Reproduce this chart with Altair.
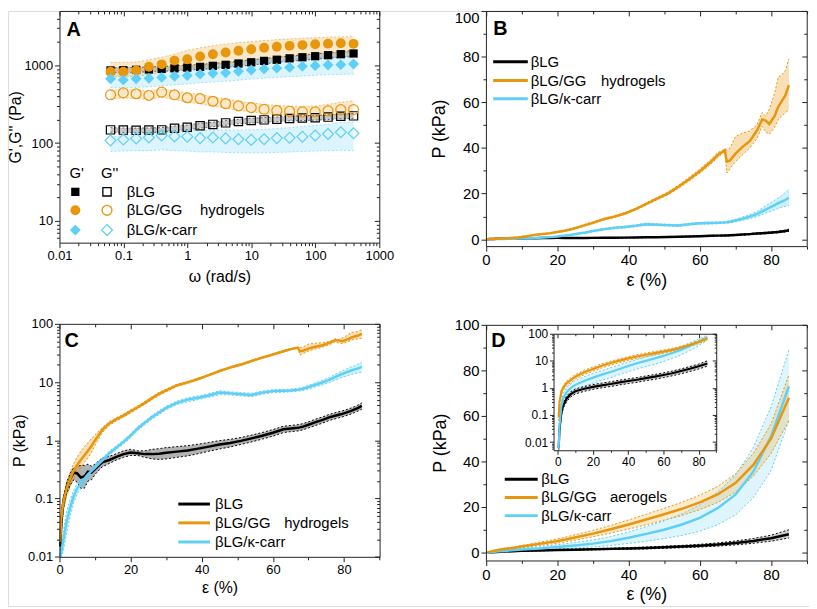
import altair as alt
import pandas as pd

W, H = 809, 601
FONT = "Liberation Sans"
ORANGE = "#E8960C"
CYAN = "#5ECFF5"
AXC = "#222222"

MATS = ["LG", "GG", "KC"]
MAT_LABELS = ["βLG", "βLG/GG", "βLG/κ-carr"]

# ---------------- Panel A : frequency sweep ----------------
omega = [0.0628, 0.0995, 0.158, 0.25, 0.396, 0.628, 0.995, 1.58, 2.5, 3.96,
         6.28, 9.95, 15.8, 25, 39.6, 62.8, 99.5, 158, 250, 396]

Gp_LG = [860, 865, 875, 885, 900, 915, 935, 955, 985, 1015, 1055, 1095, 1140, 1180, 1230, 1270, 1310, 1350, 1390, 1420]
Gp_LG_lo = [800, 805, 815, 825, 838, 850, 868, 885, 910, 938, 972, 1008, 1048, 1085, 1128, 1165, 1200, 1235, 1270, 1300]
Gp_LG_hi = [930, 935, 945, 955, 970, 985, 1005, 1028, 1060, 1092, 1135, 1178, 1225, 1268, 1320, 1365, 1410, 1455, 1500, 1550]

Gp_GG = [830, 830, 860, 960, 1030, 1150, 1200, 1300, 1390, 1460, 1540, 1610, 1680, 1730, 1780, 1820, 1870, 1900, 1920, 1890]
Gp_GG_lo = [720, 710, 720, 760, 810, 860, 900, 960, 1010, 1060, 1110, 1160, 1210, 1250, 1290, 1330, 1370, 1400, 1430, 1460]
Gp_GG_hi = [1090, 1090, 1100, 1180, 1270, 1400, 1560, 1680, 1790, 1880, 1960, 2020, 2080, 2140, 2190, 2230, 2270, 2300, 2320, 2340]

Gp_KC = [670, 650, 670, 680, 700, 725, 740, 770, 790, 800, 840, 870, 900, 920, 940, 970, 990, 1010, 1020, 1040]
Gp_KC_lo = [520, 510, 520, 530, 545, 560, 575, 595, 610, 625, 645, 665, 685, 700, 715, 730, 745, 755, 765, 775]
Gp_KC_hi = [780, 780, 800, 820, 850, 880, 910, 950, 990, 1020, 1070, 1110, 1150, 1180, 1210, 1240, 1270, 1290, 1310, 1340]

Gpp_LG = [148, 147, 146, 147, 148, 155, 160, 167, 174, 182, 190, 195, 199, 203, 207, 210, 212, 216, 222, 224]
Gpp_LG_lo = [138, 137, 136, 137, 138, 144, 149, 155, 162, 169, 177, 181, 185, 189, 193, 195, 197, 201, 206, 208]
Gpp_LG_hi = [158, 157, 156, 157, 158, 166, 171, 179, 186, 195, 203, 209, 213, 217, 221, 225, 227, 231, 238, 240]

Gpp_GG = [418, 443, 431, 410, 453, 418, 383, 373, 345, 322, 301, 286, 272, 262, 257, 252, 252, 260, 270, 270]
Gpp_GG_lo = [370, 380, 375, 365, 390, 365, 335, 320, 300, 282, 265, 252, 240, 232, 228, 225, 225, 228, 232, 232]
Gpp_GG_hi = [480, 490, 480, 465, 500, 470, 440, 425, 395, 370, 345, 330, 315, 305, 300, 298, 300, 315, 335, 350]

Gpp_KC = [108, 111, 115, 118, 125, 122, 121, 116, 118, 115, 112, 110, 112, 116, 117, 121, 125, 131, 138, 134]
Gpp_KC_lo = [78, 79, 80, 80, 82, 80, 79, 77, 77, 76, 75, 75, 75, 76, 77, 78, 79, 80, 81, 80]
Gpp_KC_hi = [120, 125, 132, 138, 146, 146, 146, 145, 146, 147, 147, 148, 150, 154, 158, 163, 168, 175, 184, 186]

# ---------------- Panels B, C : hydrogels compression ----------------
eps_H = [0.2, 0.5, 1, 2, 3, 4, 5, 6, 7, 8,
         9, 10, 12, 14, 16, 18, 20, 22, 24, 26,
         28, 30, 33, 36, 39, 42, 45, 48, 51, 54,
         57, 60, 63, 65, 67, 67.6, 68.5, 70, 72, 74,
         76, 77.5, 78.5, 79.5, 81, 82, 83, 84, 85]

LG_H = [0.015, 0.035, 0.08, 0.15, 0.22, 0.28, 0.27, 0.23, 0.24, 0.29,
        0.28, 0.32, 0.42, 0.46, 0.52, 0.58, 0.62, 0.60, 0.58, 0.58,
        0.59, 0.61, 0.64, 0.67, 0.72, 0.78, 0.85, 0.90, 0.98, 1.08,
        1.20, 1.35, 1.55, 1.60, 1.65, 1.67, 1.72, 1.85, 2.05, 2.25,
        2.50, 2.65, 2.75, 2.85, 3.05, 3.20, 3.40, 3.62, 3.90]
LG_H_lo = [0.011, 0.027, 0.062, 0.12, 0.17, 0.21, 0.19, 0.15, 0.15, 0.20,
           0.21, 0.26, 0.35, 0.40, 0.46, 0.51, 0.55, 0.55, 0.51, 0.48,
           0.47, 0.48, 0.51, 0.54, 0.59, 0.65, 0.71, 0.77, 0.85, 0.94,
           1.05, 1.18, 1.36, 1.41, 1.45, 1.47, 1.52, 1.63, 1.80, 1.98,
           2.21, 2.34, 2.43, 2.52, 2.70, 2.83, 3.01, 3.20, 3.42]
LG_H_hi = [0.020, 0.045, 0.10, 0.19, 0.27, 0.34, 0.36, 0.37, 0.37, 0.39,
           0.36, 0.39, 0.50, 0.53, 0.59, 0.66, 0.70, 0.66, 0.66, 0.70,
           0.72, 0.75, 0.78, 0.81, 0.86, 0.92, 0.99, 1.04, 1.12, 1.23,
           1.36, 1.53, 1.75, 1.80, 1.86, 1.88, 1.94, 2.08, 2.31, 2.53,
           2.81, 2.98, 3.09, 3.20, 3.42, 3.59, 3.81, 4.06, 4.40]

GG_H = [0.018, 0.045, 0.08, 0.15, 0.22, 0.30, 0.38, 0.46, 0.55, 0.66,
        0.80, 1.00, 1.50, 1.95, 2.30, 2.66, 3.15, 3.70, 4.40, 5.30,
        6.30, 7.20, 8.80, 9.90, 11.3, 13.2, 15.5, 17.8, 20.0, 23.0,
        26.3, 29.8, 33.8, 36.8, 39.0, 34.0, 34.5, 37.5, 40.5, 43.0,
        47.5, 52.5, 52.0, 50.5, 54.0, 58.0, 60.5, 63.0, 67.5]
GG_H_lo = [0.014, 0.035, 0.06, 0.11, 0.16, 0.22, 0.28, 0.34, 0.42, 0.50,
           0.62, 0.82, 1.35, 1.80, 2.15, 2.50, 2.95, 3.50, 4.15, 5.00,
           5.90, 6.80, 8.40, 9.50, 10.9, 12.8, 15.0, 17.3, 19.4, 22.3,
           25.5, 28.9, 32.8, 35.7, 38.5, 29.0, 31.0, 34.0, 37.0, 40.0,
           44.0, 49.5, 47.0, 46.0, 49.0, 52.5, 54.0, 55.5, 56.5]
GG_H_hi = [0.022, 0.055, 0.10, 0.19, 0.29, 0.40, 0.52, 0.65, 0.78, 0.92,
           1.08, 1.25, 1.65, 2.10, 2.45, 2.82, 3.35, 3.90, 4.65, 5.60,
           6.70, 7.60, 9.20, 10.3, 11.7, 13.6, 16.0, 18.3, 20.6, 23.7,
           27.1, 30.7, 34.8, 37.9, 39.5, 39.0, 40.0, 45.0, 46.5, 47.5,
           50.0, 55.5, 54.0, 57.0, 64.0, 71.0, 72.0, 74.0, 79.0]

KC_H = [0.010, 0.012, 0.018, 0.04, 0.07, 0.11, 0.15, 0.18, 0.22, 0.26,
        0.30, 0.34, 0.45, 0.60, 0.75, 0.94, 1.20, 1.60, 2.00, 2.50,
        3.00, 3.60, 4.40, 5.00, 5.40, 5.90, 6.60, 6.40, 6.20, 6.00,
        6.60, 7.00, 7.10, 7.20, 7.40, 7.50, 7.70, 8.20, 9.00, 9.90,
        11.0, 12.2, 13.0, 13.8, 15.0, 15.8, 16.5, 17.2, 18.2]
KC_H_lo = [0.010, 0.010, 0.012, 0.025, 0.05, 0.085, 0.12, 0.15, 0.18, 0.22,
           0.26, 0.30, 0.41, 0.55, 0.69, 0.87, 1.10, 1.48, 1.85, 2.32,
           2.78, 3.35, 4.10, 4.60, 5.00, 5.50, 6.10, 6.00, 5.80, 5.60,
           6.20, 6.60, 6.70, 6.80, 7.00, 7.05, 7.20, 7.60, 8.30, 9.00,
           9.90, 10.8, 11.4, 12.0, 12.9, 13.5, 14.0, 14.4, 14.8]
KC_H_hi = [0.012, 0.016, 0.026, 0.06, 0.095, 0.14, 0.18, 0.22, 0.26, 0.30,
           0.34, 0.38, 0.49, 0.65, 0.81, 1.01, 1.30, 1.72, 2.15, 2.68,
           3.22, 3.85, 4.70, 5.40, 5.80, 6.30, 7.10, 6.80, 6.60, 6.40,
           7.00, 7.40, 7.50, 7.60, 7.80, 7.95, 8.20, 8.80, 9.70, 10.8,
           12.1, 13.6, 14.6, 15.6, 17.1, 18.1, 19.2, 20.5, 22.0]

# ---------------- Panel D : aerogels compression ----------------
eps_D = [0.5, 1, 2, 3, 5, 7.5, 10, 15, 20, 25, 30, 35, 40, 45, 50, 55, 60, 65, 70, 75, 80, 85]
GG_D = [0.08, 0.3, 0.7, 1.0, 1.5, 2.0, 2.6, 3.8, 5.0, 6.6, 8.3, 10.2, 12.3, 14.5, 16.8, 19.2, 22.0, 25.5, 30.5, 38.5, 50.0, 68.0]
GG_D_lo = [0.06, 0.24, 0.56, 0.8, 1.2, 1.6, 2.1, 3.1, 4.1, 5.4, 6.9, 8.5, 10.3, 12.2, 14.2, 16.3, 18.8, 22.0, 26.5, 33.5, 43.5, 58.0]
GG_D_hi = [0.10, 0.36, 0.84, 1.2, 1.8, 2.4, 3.1, 4.5, 5.9, 7.8, 9.7, 11.9, 14.3, 16.8, 19.4, 22.1, 25.2, 29.0, 34.5, 43.5, 56.5, 78.0]
KC_D = [0.006, 0.04, 0.2, 0.4, 0.7, 1.0, 1.3, 1.8, 2.4, 3.1, 3.9, 5.0, 6.5, 8.2, 10.0, 12.3, 15.2, 19.5, 25.4, 35.5, 51.0, 73.0]
KC_D_lo = [0.005, 0.025, 0.12, 0.25, 0.45, 0.65, 0.85, 1.15, 1.5, 1.9, 2.4, 3.1, 4.0, 5.0, 6.1, 7.5, 9.4, 12.2, 16.5, 24.0, 36.0, 58.0]
KC_D_hi = [0.008, 0.06, 0.3, 0.6, 1.05, 1.45, 1.9, 2.6, 3.4, 4.4, 5.5, 7.0, 9.0, 11.4, 13.9, 17.0, 21.0, 26.5, 34.0, 46.0, 64.0, 89.0]
LG_D = [0.006, 0.03, 0.12, 0.22, 0.4, 0.6, 0.75, 0.93, 1.1, 1.25, 1.4, 1.6, 1.8, 2.0, 2.3, 2.6, 3.0, 3.5, 4.2, 5.1, 6.3, 8.0]
LG_D_lo = [0.005, 0.022, 0.09, 0.17, 0.31, 0.47, 0.6, 0.75, 0.89, 1.01, 1.13, 1.29, 1.45, 1.61, 1.85, 2.09, 2.41, 2.8, 3.35, 4.05, 5.0, 6.4]
LG_D_hi = [0.008, 0.04, 0.15, 0.28, 0.5, 0.74, 0.92, 1.13, 1.33, 1.51, 1.69, 1.93, 2.17, 2.41, 2.77, 3.13, 3.6, 4.2, 5.05, 6.15, 7.6, 10.0]

# ---------------- tick values ----------------
def log_minor(lo, hi):
    out = []
    for k in range(-3, 5):
        for m in range(2, 10):
            v = round(m * 10.0 ** k, 8)
            if lo < v < hi:
                out.append(v)
    return out

LIN_MAJ_X = [0, 20, 40, 60, 80]
LIN_MIN_X = [10, 30, 50, 70, 90]
LIN_MAJ_Y = [0, 20, 40, 60, 80, 100]
LIN_MIN_Y = [10, 30, 50, 70, 90]

# ---------------- data frames ----------------
recs = []
A_series = [
    ("LG", "p", Gp_LG, Gp_LG_lo, Gp_LG_hi), ("GG", "p", Gp_GG, Gp_GG_lo, Gp_GG_hi),
    ("KC", "p", Gp_KC, Gp_KC_lo, Gp_KC_hi), ("LG", "pp", Gpp_LG, Gpp_LG_lo, Gpp_LG_hi),
    ("GG", "pp", Gpp_GG, Gpp_GG_lo, Gpp_GG_hi), ("KC", "pp", Gpp_KC, Gpp_KC_lo, Gpp_KC_hi),
]
for mat, kind, v, lo, hi in A_series:
    for w, a, b, c in zip(omega, v, lo, hi):
        recs.append(dict(w=w, val=a, lo=b, hi=c, mat=mat, kind=kind, sid=mat + kind))
dfA = pd.DataFrame(recs)

def long_df(eps, groups):
    r = []
    for mat, v, lo, hi in groups:
        for e, a, b, c in zip(eps, v, lo, hi):
            r.append(dict(eps=e, val=a, lo=b, hi=c, mat=mat))
    return pd.DataFrame(r)

dfH = long_df(eps_H, [("LG", LG_H, LG_H_lo, LG_H_hi), ("KC", KC_H, KC_H_lo, KC_H_hi), ("GG", GG_H, GG_H_lo, GG_H_hi)])
dfD = long_df(eps_D, [("LG", LG_D, LG_D_lo, LG_D_hi), ("KC", KC_D, KC_D_lo, KC_D_hi), ("GG", GG_D, GG_D_lo, GG_D_hi)])

color_scale = alt.Scale(domain=MATS, range=["#000000", ORANGE, CYAN])
COLOR = alt.Color("mat:N", scale=color_scale, legend=None)

def lin_scale(dom, rng):
    return alt.Scale(type="linear", domain=dom, range=rng, nice=False, zero=False)

def log_scale(dom, rng):
    return alt.Scale(type="log", domain=dom, range=rng, nice=False)

# panel geometry (chart pixel coords)
A_xd, A_yd, A_xr, A_yr = [0.01, 1000], [5.25, 5000], [52, 375], [234, 0]
B_xd, B_yd, B_xr, B_yr = [0, 90], [-3, 100], [482.7, 806.7], [237.5, 0]
C_xd, C_yd, C_xr, C_yr = [0, 90], [0.01, 100], [52, 375.3], [551.3, 316]
D_xd, D_yd, D_xr, D_yr = [0, 90], [-3.5, 100], [482.7, 806.7], [555, 317]
I_xd, I_yd, I_xr, I_yr = [-2.4, 90], [0.005, 100], [551, 715.3], [443.7, 326]

xsA, ysA = log_scale(A_xd, A_xr), log_scale(A_yd, A_yr)
xsB, ysB = lin_scale(B_xd, B_xr), lin_scale(B_yd, B_yr)
xsC, ysC = lin_scale(C_xd, C_xr), log_scale(C_yd, C_yr)
xsD, ysD = lin_scale(D_xd, D_xr), lin_scale(D_yd, D_yr)
xsI, ysI = lin_scale(I_xd, I_xr), log_scale(I_yd, I_yr)

# ---------------- axis helper ----------------
def axis_set(xs, ys, xdom, ydom, xr, yr, xmaj, xmin, ymaj, ymin, xfmt, yfmt,
             xtitle, ytitle, lsize, tsize, xtp, ytp, tl=5, ml=3, ytx=None, ybase=None):
    out = []
    dx = pd.DataFrame({"v": xdom})
    dy = pd.DataFrame({"v": ydom})
    base = dict(domainColor=AXC, tickColor=AXC, domainWidth=1, tickWidth=1, zindex=1, grid=False)
    lab = dict(labelFontSize=lsize, labelFont=FONT, labelColor="black",
               labelFlush=False, labelOverlap=False, labelPadding=2)
    tit = dict(titleFontSize=tsize, titleFont=FONT, titleFontWeight="normal", titleColor="black")
    yextra = {}
    if ytx is not None:
        yextra["titleX"] = ytx
    if ybase is not None:
        yextra["labelBaseline"] = {"expr": ybase}

    def xl(axis):
        return alt.Chart(dx).mark_point(opacity=0).encode(x=alt.X("v:Q", scale=xs, axis=axis))

    def yl(axis):
        return alt.Chart(dy).mark_point(opacity=0).encode(y=alt.Y("v:Q", scale=ys, axis=axis))

    out.append(xl(alt.Axis(orient="bottom", offset=yr[0] - H, values=xmaj, format=xfmt, tickSize=tl,
                           title=xtitle, titlePadding=xtp, **base, **lab, **tit)))
    out.append(xl(alt.Axis(orient="bottom", offset=yr[0] - H, values=xmin, tickSize=ml,
                           labels=False, domain=False, title=None, **base)))
    out.append(xl(alt.Axis(orient="bottom", offset=yr[1] - H, values=xmaj, tickSize=tl,
                           labels=False, title=None, **base)))
    out.append(xl(alt.Axis(orient="bottom", offset=yr[1] - H, values=xmin, tickSize=ml,
                           labels=False, domain=False, title=None, **base)))
    out.append(yl(alt.Axis(orient="left", offset=-xr[0], values=ymaj, format=yfmt, tickSize=tl,
                           title=ytitle, titlePadding=ytp, **base, **lab, **tit, **yextra)))
    out.append(yl(alt.Axis(orient="left", offset=-xr[0], values=ymin, tickSize=ml,
                           labels=False, domain=False, title=None, **base)))
    out.append(yl(alt.Axis(orient="left", offset=-xr[1], values=ymaj, tickSize=tl,
                           labels=False, title=None, **base)))
    out.append(yl(alt.Axis(orient="left", offset=-xr[1], values=ymin, tickSize=ml,
                           labels=False, domain=False, title=None, **base)))
    return out

# ---------------- annotation helpers ----------------
one = pd.DataFrame({"a": [0]})

def txt(s, x, y, size, weight="normal", baseline="middle"):
    return alt.Chart(one).mark_text(text=s, align="left", baseline=baseline, fontSize=size,
                                    fontWeight=weight, font=FONT, color="black").encode(
        x=alt.value(x), y=alt.value(y))

def seg(color, x1, x2, y):
    return alt.Chart(one).mark_rule(color=color, strokeWidth=3).encode(
        x=alt.value(x1), x2=alt.value(x2), y=alt.value(y))

def sym(shape, filled, color, x, y, size):
    return alt.Chart(one).mark_point(shape=shape, filled=filled, color=color, size=size,
                                     opacity=1, strokeWidth=1.3).encode(x=alt.value(x), y=alt.value(y))

# ---------------- panel A layers ----------------
XA = alt.X("w:Q", scale=xsA, axis=None)
bandA = alt.Chart(dfA).mark_area(opacity=0.22).encode(
    x=XA, y=alt.Y("lo:Q", scale=ysA, axis=None, stack=None), y2="hi:Q", color=COLOR, detail="sid:N")
loA = alt.Chart(dfA).mark_line(strokeDash=[2, 2], strokeWidth=1, opacity=0.55).encode(
    x=XA, y=alt.Y("lo:Q", scale=ysA, axis=None), color=COLOR, detail="sid:N")
hiA = alt.Chart(dfA).mark_line(strokeDash=[2, 2], strokeWidth=1, opacity=0.55).encode(
    x=XA, y=alt.Y("hi:Q", scale=ysA, axis=None), color=COLOR, detail="sid:N")
A_layers = [bandA, loA, hiA]
shapes = {"LG": ("square", 70), "GG": ("circle", 100), "KC": ("diamond", 121)}
colors = {"LG": "#000000", "GG": ORANGE, "KC": CYAN}
for mat in MATS:
    shp, sz = shapes[mat]
    for kind, filled in (("p", True), ("pp", False)):
        sub = dfA[(dfA.mat == mat) & (dfA.kind == kind)]
        A_layers.append(alt.Chart(sub).mark_point(shape=shp, filled=filled, size=sz, opacity=1,
                                                  strokeWidth=1.2, color=colors[mat]).encode(
            x=XA, y=alt.Y("val:Q", scale=ysA, axis=None)))
panelA = alt.layer(*A_layers)

def line_panel(df, xs, ys, width=2.5, band_op=0.3):
    X = alt.X("eps:Q", scale=xs, axis=None)
    band = alt.Chart(df).mark_area(opacity=band_op).encode(
        x=X, y=alt.Y("lo:Q", scale=ys, axis=None, stack=None), y2="hi:Q", color=COLOR, detail="mat:N")
    lo = alt.Chart(df).mark_line(strokeDash=[2, 2], strokeWidth=1).encode(
        x=X, y=alt.Y("lo:Q", scale=ys, axis=None), color=COLOR, detail="mat:N")
    hi = alt.Chart(df).mark_line(strokeDash=[2, 2], strokeWidth=1).encode(
        x=X, y=alt.Y("hi:Q", scale=ys, axis=None), color=COLOR, detail="mat:N")
    ln = alt.Chart(df).mark_line(strokeWidth=width).encode(
        x=X, y=alt.Y("val:Q", scale=ys, axis=None), color=COLOR, detail="mat:N")
    return [band, lo, hi, ln]

panelB = alt.layer(*line_panel(dfH, xsB, ysB))
panelC = alt.layer(*line_panel(dfH, xsC, ysC))
panelD = alt.layer(*line_panel(dfD, xsD, ysD, band_op=0.2))
inset_bg = alt.Chart(pd.DataFrame({"x0": [I_xd[0]], "x1": [I_xd[1]], "y0": [I_yd[0]], "y1": [I_yd[1]]})).mark_rect(
    fill="white").encode(x=alt.X("x0:Q", scale=xsI, axis=None), x2="x1:Q",
                         y=alt.Y("y0:Q", scale=ysI, axis=None), y2="y1:Q")
panelI = alt.layer(inset_bg, *line_panel(dfD, xsI, ysI, width=2.2, band_op=0.2))

# ---------------- axes ----------------
axes = []
axes += axis_set(xsA, ysA, A_xd, A_yd, A_xr, A_yr,
                 [0.01, 0.1, 1, 10, 100, 1000], log_minor(0.01, 1000),
                 [10, 100, 1000], log_minor(5.25, 5000), "~g", "~g",
                 "ω (rad/s)", "G',G'' (Pa)", 13, 16, 6, 3, ytx=-36)
axes += axis_set(xsB, ysB, B_xd, B_yd, B_xr, B_yr, LIN_MAJ_X, LIN_MIN_X, LIN_MAJ_Y, LIN_MIN_Y,
                 "d", "d", "ε (%)", "P (kPa)", 15, 18, 4, 6,
                 ybase="datum.value == 100 ? 'top' : 'middle'")
axes += axis_set(xsC, ysC, C_xd, C_yd, C_xr, C_yr, LIN_MAJ_X, LIN_MIN_X,
                 [0.01, 0.1, 1, 10, 100], log_minor(0.01, 100), "d", "~g",
                 "ε (%)", "P (kPa)", 13, 16, 3, 2, ytx=-32)
axes += axis_set(xsD, ysD, D_xd, D_yd, D_xr, D_yr, LIN_MAJ_X, LIN_MIN_X, LIN_MAJ_Y, LIN_MIN_Y,
                 "d", "d", "ε (%)", "P (kPa)", 15, 18, 3, 5)
axes += axis_set(xsI, ysI, I_xd, I_yd, I_xr, I_yr, LIN_MAJ_X, LIN_MIN_X,
                 [0.01, 0.1, 1, 10, 100], log_minor(0.005, 100), "d", "~g",
                 None, None, 12, 12, 2, 2, tl=4, ml=2)

# ---------------- legends & letters ----------------
ann = []
ann += [txt("A", 59, 25, 20, "bold", "alphabetic"), txt("B", 490, 24, 20, "bold", "alphabetic"),
        txt("C", 57, 339, 20, "bold", "alphabetic"), txt("D", 488, 339, 20, "bold", "alphabetic")]
# legend A
ann += [txt("G'", 62, 164, 15), txt("G''", 94, 164, 15)]
rowsA = [182.7, 201.3, 221.3]
for mat, lbl, yy in zip(MATS, MAT_LABELS, rowsA):
    shp, sz = shapes[mat]
    ann += [sym(shp, True, colors[mat], 68, yy, sz), sym(shp, False, colors[mat], 100, yy, sz),
            txt(lbl, 120, yy, 15)]
ann.append(txt("hydrogels", 194, rowsA[1], 15))
# line legends
for (x1, x2, xl, rows, xh, word) in [
        (490, 525, 528, [51.3, 70.3, 88.7], 599, "hydrogels"),
        (172, 204, 209, [498, 517, 536.3], 279, "hydrogels"),
        (501.7, 535, 538.5, [473, 491.3, 509.7], 608, "aerogels")]:
    for mat, lbl, yy in zip(MATS, MAT_LABELS, rows):
        ann += [seg(colors[mat], x1, x2, yy), txt(lbl, xl, yy, 15)]
    ann.append(txt(word, xh, rows[1], 15))

chart = alt.layer(panelA, panelB, panelC, panelD, panelI, *axes, *ann).resolve_scale(
    x="independent", y="independent").properties(
    width=W, height=H, padding=0, autosize="none").configure_view(stroke=None).configure(
    background="white", font=FONT)

chart.save("out.html", embed_options={"renderer": "svg", "actions": False})
